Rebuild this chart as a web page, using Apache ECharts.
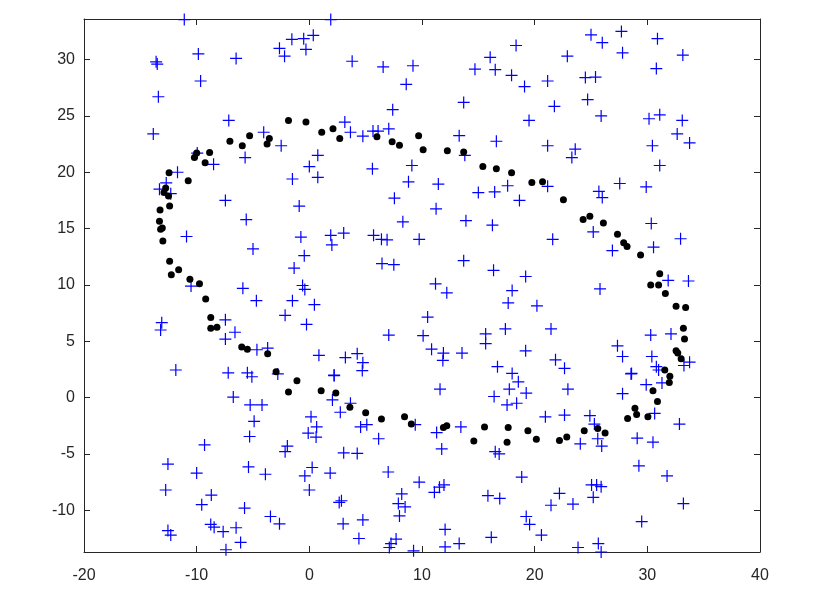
<!DOCTYPE html>
<html>
<head>
<meta charset="utf-8">
<script src="https://cdn.jsdelivr.net/npm/echarts@6/dist/echarts.min.js"></script>
<style>
  html, body { margin: 0; padding: 0; background: #fff; }
  #chart { width: 814px; height: 596px; }
</style>
</head>
<body>
<div id="chart"></div>
<script>
// axis limits (x fixed, y tight to data)
const xRange = [-20, 40];
const yRange = [-13.7, 33.6];

// blue "+" samples
const crossPoints = [
  [-11.1, 33.55], [-13.6, 29.8], [-13.5, 29.6], [-9.85, 30.5], [-6.5, 30.1], [-9.65, 28.1],
  [-13.4, 26.7], [-7.15, 24.6], [-13.85, 23.4], [-5.7, 21.3], [-9.95, 21.7], [-8.5, 20.7],
  [-11.7, 20.0], [-12.7, 19.05], [-13.3, 18.5],
  [-12.3, 18.1], [-7.45, 17.5], [-5.6, 15.8], [-10.9, 14.3], [-5.0, 13.2], [-10.5, 9.9],
  [-5.9, 9.7], [-4.7, 8.6], [-13.1, 6.65], [-13.2, 6.0], [-7.45, 6.9], [-6.6, 5.8],
  [-7.45, 5.2], [-11.85, 2.45], [-7.2, 2.2], [-5.5, 2.2], [-4.65, 4.25], [-3.7, 4.4],
  [-0.9, 17.0], [7.55, 17.7], [8.3, 15.6], [-0.75, 14.25], [1.9, 14.4], [2.0, 13.55],
  [3.05, 14.6], [5.7, 14.4], [6.4, 14.05], [6.9, 14.0], [9.75, 14.05], [-0.45, 12.6],
  [-1.35, 11.5], [6.45, 11.9], [7.5, 11.8], [-0.6, 9.95], [-0.4, 9.6], [-1.5, 8.6],
  [0.45, 8.25], [-2.15, 7.3], [-0.25, 6.5], [7.05, 5.55], [10.1, 5.5], [10.5, 7.15],
  [0.85, 3.75], [3.2, 3.55], [4.25, 3.9], [4.75, 3.1], [4.7, 2.4], [2.2, 2.0],
  [1.9, 33.55], [-2.65, 31.0], [-2.2, 30.3], [-1.55, 31.8], [-0.5, 31.85], [0.35, 32.15],
  [-0.3, 30.9], [3.8, 29.85], [6.55, 29.35], [9.2, 29.45], [8.6, 27.8], [7.4, 25.55],
  [3.15, 24.45], [-4.05, 23.55], [3.65, 23.55], [4.75, 23.2], [5.65, 23.65], [6.1, 23.65],
  [7.05, 23.85], [-2.5, 22.35], [0.75, 21.5], [0.0, 20.5], [0.75, 19.55], [-1.5, 19.4],
  [5.6, 20.3], [9.1, 20.6], [8.8, 19.15],
  [25.0, 32.2], [18.35, 31.25], [16.05, 30.2], [22.9, 30.3], [14.7, 29.15], [16.5, 29.1],
  [17.95, 28.6], [19.1, 27.6], [21.15, 28.1], [24.5, 28.4], [13.7, 26.2], [21.75, 25.85],
  [24.7, 26.45], [19.5, 24.6], [13.3, 23.25], [16.6, 22.75], [21.15, 22.35], [23.6, 22.05],
  [23.3, 21.3], [13.8, 21.5], [11.45, 18.95], [15.0, 18.2], [16.45, 18.25], [17.6, 18.8],
  [21.15, 18.75],
  [26.0, 31.5], [27.7, 32.5], [30.9, 31.85], [27.8, 30.6], [33.15, 30.4], [30.8, 29.2],
  [25.4, 28.45], [25.9, 25.0], [30.15, 24.75], [31.1, 25.1], [33.1, 24.6], [32.65, 23.4],
  [33.75, 22.6], [30.45, 22.35], [31.1, 20.6], [27.55, 19.0], [29.9, 18.7], [25.7, 18.3],
  [26.0, 17.75], [30.35, 15.45], [25.2, 14.7], [32.95, 14.1], [26.9, 13.05], [30.55, 13.35],
  [31.85, 10.4], [33.65, 10.35], [25.8, 9.65], [30.3, 5.55], [32.1, 5.65], [27.35, 4.6],
  [27.8, 3.65], [30.4, 3.65], [30.8, 2.75], [31.0, 2.45], [28.6, 2.15], [33.25, 2.85],
  [33.75, 3.15],
  [18.65, 17.5], [11.25, 16.75], [13.9, 15.7], [16.25, 15.3], [21.6, 14.05], [13.7, 12.15],
  [16.35, 11.3], [19.2, 10.75], [11.2, 10.1], [12.2, 9.3], [18.0, 9.5], [17.65, 8.4],
  [20.2, 8.15], [17.4, 6.1], [21.45, 6.1], [15.65, 5.65], [15.65, 4.8], [10.85, 4.3],
  [11.9, 3.95], [11.85, 3.3], [13.55, 3.95], [19.2, 4.15], [21.85, 3.35], [22.65, 2.6],
  [16.7, 2.75], [18.0, 2.15],
  [-5.1, 1.85], [-6.75, 0.05], [-5.25, -0.65], [-4.9, -2.1], [-5.3, -3.45], [-9.3, -4.2],
  [-12.55, -5.9], [-10.0, -6.7], [-5.4, -6.15], [-12.75, -8.2], [-8.7, -8.65], [-9.55, -9.5],
  [-5.75, -9.8], [-12.55, -11.8], [-12.3, -12.2], [-8.75, -11.25], [-8.45, -11.5],
  [-7.65, -11.9], [-6.5, -11.55], [-6.1, -12.85], [-7.4, -13.5],
  [-2.8, 2.1], [2.2, 1.95], [2.05, -0.2], [3.65, -0.5], [2.75, -1.3], [-4.2, -0.65],
  [0.15, -1.7], [0.65, -2.6], [-0.1, -3.15], [0.6, -3.5], [4.55, -2.6], [5.1, -2.4],
  [6.15, -3.65], [9.4, -2.4], [-1.95, -4.3], [-2.15, -4.8], [3.05, -4.9], [4.25, -4.95],
  [-3.9, -6.8], [0.25, -6.2], [-0.4, -6.95], [1.85, -6.7], [0.0, -8.2], [7.0, -6.6],
  [9.75, -7.5], [2.65, -9.3], [2.85, -9.15], [8.2, -8.55], [7.9, -9.4], [8.5, -9.7],
  [8.0, -10.5], [-3.45, -10.55], [-2.65, -11.2], [3.0, -11.2], [4.75, -10.85], [4.4, -12.5],
  [7.25, -12.95], [7.7, -12.55], [7.1, -13.3], [9.25, -13.6],
  [11.6, 0.75], [18.55, 1.4], [17.75, 0.75], [19.25, 0.4], [16.4, 0.1], [17.55, -0.65],
  [18.4, -0.5], [22.95, 0.75], [20.95, -1.7], [22.65, -1.55], [24.9, -1.6], [13.45, -2.6],
  [11.3, -3.1], [11.75, -4.55], [16.5, -4.8], [16.85, -5.0], [24.05, -4.1], [11.1, -8.4],
  [11.55, -7.95], [11.95, -7.75], [18.85, -7.05], [15.85, -8.7], [16.9, -8.95], [22.2, -8.5],
  [21.45, -9.55], [23.4, -9.45], [19.25, -10.55], [19.55, -11.25], [20.6, -12.2],
  [12.05, -11.7], [12.05, -13.25], [13.3, -12.95], [16.15, -12.4], [23.85, -13.3],
  [25.05, -7.75], [25.5, -7.75], [25.9, -7.9], [25.2, -8.85], [25.65, -12.95], [25.9, -13.7],
  [28.55, 2.1], [29.9, 1.15], [31.3, 1.3], [27.8, 0.35], [30.65, -1.4], [32.85, -2.35],
  [25.3, -2.35], [25.6, -3.65], [25.95, -4.3], [29.1, -3.6], [30.5, -3.95], [29.25, -6.05],
  [31.75, -6.95], [33.2, -9.4], [29.5, -11.0]
];

// black dots on the closed curve
const dotPoints = [
  [-5.3, 23.25], [-7.05, 22.75], [-5.95, 22.35], [-8.85, 21.75], [-10.0, 21.7], [-10.2, 21.3],
  [-9.25, 20.85], [-12.45, 19.95], [-10.75, 19.25], [-12.75, 18.6], [-12.9, 18.2],
  [-12.5, 17.9], [-12.4, 17.0], [-13.25, 16.65], [-13.3, 15.65], [-13.2, 14.95], [-13.05, 15.05],
  [-13.0, 13.9], [-12.4, 12.1], [-11.6, 11.35], [-12.25, 10.9], [-10.6, 10.5], [-9.75, 10.1],
  [-9.2, 8.75], [-8.75, 7.1], [-8.75, 6.15], [-8.2, 6.25], [-6.0, 4.5], [-5.5, 4.3],
  [-3.7, 3.9], [-2.95, 2.3], [-1.1, 1.5], [-1.85, 0.5], [1.05, 0.6], [2.35, 0.4],
  [3.6, -0.85], [5.0, -1.35], [6.4, -1.9], [8.45, -1.7], [9.05, -2.35],
  [-3.55, 23.0], [-3.75, 22.5], [-1.85, 24.6], [-0.3, 24.45], [1.1, 23.55], [2.1, 23.85],
  [2.7, 23.0], [6.0, 23.15], [7.35, 22.7], [8.0, 22.4], [9.7, 23.25], [10.1, 22.0],
  [12.25, 21.9], [13.7, 21.8], [15.4, 20.5], [16.6, 20.3], [17.95, 19.95], [19.75, 19.1],
  [20.7, 19.15], [22.55, 17.55], [24.3, 15.8],
  [24.9, 16.1], [26.1, 15.5], [27.35, 14.5], [27.9, 13.75], [28.2, 13.4], [29.4, 12.65],
  [31.1, 11.0], [30.3, 10.0], [31.0, 10.0], [31.6, 9.25], [32.55, 8.1], [33.4, 8.0],
  [33.2, 6.15], [33.3, 5.2], [32.55, 4.15], [32.7, 3.95], [33.0, 3.45], [31.55, 2.45],
  [32.0, 1.9], [31.95, 1.35], [30.5, 0.6], [30.9, -0.35], [28.9, -0.95], [29.05, -1.5],
  [28.25, -1.85], [30.05, -1.7], [25.6, -2.75], [26.25, -3.15],
  [11.9, -2.65], [12.2, -2.5], [14.6, -3.85], [15.55, -2.6], [17.65, -2.65], [17.55, -3.95],
  [19.4, -2.95], [20.15, -3.7], [22.2, -3.8], [22.85, -3.5], [24.4, -2.95]
];

const axisColor = '#262626';
const crossPath = 'path://M5.4,0H6.6V5.4H12V6.6H6.6V12H5.4V6.6H0V5.4H5.4Z';

function boxAxis (range, step, pos, withLabels) {
  return {
    type: 'value',
    position: pos,
    min: range[0],
    max: range[1],
    minInterval: step,
    maxInterval: step,
    splitNumber: Math.round((range[1] - range[0]) / step),
    splitLine: { show: false },
    axisLine: { show: true, onZero: false, lineStyle: { color: axisColor, width: 1 } },
    axisTick: { show: true, inside: true, length: 6, lineStyle: { color: axisColor } },
    axisLabel: {
      show: withLabels,
      color: axisColor,
      fontSize: 16,
      fontFamily: 'Liberation Sans',
      margin: pos === 'left' ? 9 : 16,
      formatter: v => (Math.abs(v % step) < 1e-6 ? String(v) : '')
    }
  }
}

let myChart = echarts.init(document.getElementById('chart'))
myChart.setOption({
  animation: false,
  backgroundColor: '#ffffff',
  grid: { left: 84, right: 54, top: 19, bottom: 44 },
  xAxis: [
    boxAxis(xRange, 10, 'bottom', true),
    boxAxis(xRange, 10, 'top', false)
  ],
  yAxis: [
    boxAxis(yRange, 5, 'left', true),
    boxAxis(yRange, 5, 'right', false)
  ],
  series: [
    {
      type: 'scatter',
      data: crossPoints,
      symbol: crossPath,
      symbolSize: 12,
      itemStyle: { color: '#0000ff', opacity: 1 }
    },
    {
      type: 'scatter',
      data: dotPoints,
      symbol: 'circle',
      symbolSize: 7,
      itemStyle: { color: '#000000', opacity: 1 }
    }
  ]
})
</script>
</body>
</html>
